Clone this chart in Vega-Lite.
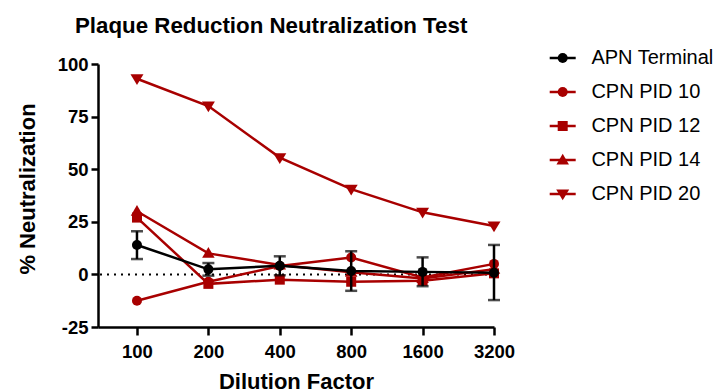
{
  "$schema": "https://vega.github.io/schema/vega-lite/v6.json",
  "width": 396,
  "height": 263,
  "autosize": {"type": "none"},
  "padding": {"left": 98, "top": 64, "right": 227, "bottom": 65},
  "title": {"text": "Plaque Reduction Neutralization Test", "anchor": "start", "frame": "group", "dx": -23, "dy": 17, "fontSize": 22.3, "font": "Liberation Sans", "fontWeight": "bold", "color": "black", "baseline": "alphabetic", "offset": 10},
  "config": {
    "view": {"stroke": null},
    "font": "Liberation Sans",
    "axis": {"domainColor": "black", "domainWidth": 2.5, "tickColor": "black", "tickWidth": 2.5, "labelColor": "black", "labelFont": "Liberation Sans", "labelFontSize": 18.5, "labelFontWeight": "bold", "titleFont": "Liberation Sans", "titleFontSize": 22, "titleFontWeight": "bold", "titleColor": "black", "grid": false, "labelOverlap": false, "labelFlush": false},
    "legend": {"orient": "none", "legendX": 454.7, "legendY": -16, "symbolSize": 100, "labelFontSize": 20, "labelFont": "Liberation Sans", "labelColor": "black", "labelOffset": 18.7, "rowPadding": 14, "padding": 0, "labelLimit": 300}
  },
  "data": {"values": [
    {"series": "CPN PID 10", "dilution": 100, "value": -12.5},
    {"series": "CPN PID 10", "dilution": 200, "value": -3.5},
    {"series": "CPN PID 10", "dilution": 400, "value": 4},
    {"series": "CPN PID 10", "dilution": 800, "value": 8},
    {"series": "CPN PID 10", "dilution": 1600, "value": -1.5},
    {"series": "CPN PID 10", "dilution": 3200, "value": 5},
    {"series": "CPN PID 12", "dilution": 100, "value": 27},
    {"series": "CPN PID 12", "dilution": 200, "value": -4.5},
    {"series": "CPN PID 12", "dilution": 400, "value": -2.5},
    {"series": "CPN PID 12", "dilution": 800, "value": -3.5},
    {"series": "CPN PID 12", "dilution": 1600, "value": -3},
    {"series": "CPN PID 12", "dilution": 3200, "value": 0.5},
    {"series": "CPN PID 14", "dilution": 100, "value": 30},
    {"series": "CPN PID 14", "dilution": 200, "value": 10},
    {"series": "CPN PID 14", "dilution": 400, "value": 4.5},
    {"series": "CPN PID 14", "dilution": 800, "value": 1},
    {"series": "CPN PID 14", "dilution": 1600, "value": -2},
    {"series": "CPN PID 14", "dilution": 3200, "value": 2.5},
    {"series": "CPN PID 20", "dilution": 100, "value": 93},
    {"series": "CPN PID 20", "dilution": 200, "value": 80},
    {"series": "CPN PID 20", "dilution": 400, "value": 55.5},
    {"series": "CPN PID 20", "dilution": 800, "value": 40.5},
    {"series": "CPN PID 20", "dilution": 1600, "value": 29.5},
    {"series": "CPN PID 20", "dilution": 3200, "value": 23},
    {"series": "APN Terminal", "dilution": 100, "value": 14, "lo": 7.3, "hi": 20.5},
    {"series": "APN Terminal", "dilution": 200, "value": 2.4, "lo": -0.6, "hi": 5.4},
    {"series": "APN Terminal", "dilution": 400, "value": 4.1, "lo": -0.4, "hi": 8.6},
    {"series": "APN Terminal", "dilution": 800, "value": 1.6, "lo": -7.8, "hi": 11},
    {"series": "APN Terminal", "dilution": 1600, "value": 1.2, "lo": -5.6, "hi": 8.1},
    {"series": "APN Terminal", "dilution": 3200, "value": 0.8, "lo": -12.2, "hi": 14}
  ]},
  "layer": [
    {
      "data": {"values": [{"ref": 0}]},
      "mark": {"type": "rule", "strokeDash": [2, 5], "strokeWidth": 2, "color": "black"},
      "encoding": {
        "y": {"field": "ref", "type": "quantitative", "scale": {"domain": [-25, 100], "nice": false, "zero": false}, "axis": {"values": [-25, 0, 25, 50, 75, 100], "labelExpr": "'' + datum.value", "title": "% Neutralization", "tickSize": 7, "labelPadding": 3, "titleX": -64, "titleY": 124.5, "titleAngle": 270, "titleBaseline": "alphabetic", "titleAlign": "center"}}
      }
    },
    {
      "transform": [{"filter": "datum.series !== 'APN Terminal'"}],
      "mark": {"type": "line", "strokeWidth": 2.5},
      "encoding": {
        "x": {"field": "dilution", "type": "quantitative", "scale": {"type": "log", "base": 2, "domain": [68.5, 3200], "nice": false}, "axis": {"values": [100, 200, 400, 800, 1600, 3200], "format": "d", "title": "Dilution Factor", "tickSize": 8, "labelPadding": 7, "titleX": 198, "titleY": 61, "titleBaseline": "alphabetic", "titleAlign": "center"}},
        "y": {"field": "value", "type": "quantitative", "scale": {"domain": [-25, 100], "nice": false, "zero": false}, "axis": {"values": [-25, 0, 25, 50, 75, 100], "labelExpr": "'' + datum.value", "title": "% Neutralization", "tickSize": 7, "labelPadding": 3, "titleX": -64, "titleY": 124.5, "titleAngle": 270, "titleBaseline": "alphabetic", "titleAlign": "center"}},
        "color": {"field": "series", "type": "nominal", "scale": {"domain": ["APN Terminal", "CPN PID 10", "CPN PID 12", "CPN PID 14", "CPN PID 20"], "range": ["black", "#A80000", "#A80000", "#A80000", "#A80000"]}, "legend": {"title": null, "symbolType": "M-2.6,0H2.6", "symbolStrokeWidth": 2.5}}
      }
    },
    {
      "transform": [{"filter": "datum.series !== 'APN Terminal'"}],
      "mark": {"type": "point", "filled": true, "size": 100, "opacity": 1},
      "encoding": {
        "x": {"field": "dilution", "type": "quantitative"},
        "y": {"field": "value", "type": "quantitative"},
        "fill": {"field": "series", "type": "nominal", "scale": {"range": ["black", "#A80000", "#A80000", "#A80000", "#A80000"]}, "legend": {"title": null, "labelOpacity": 0}},
        "shape": {"field": "series", "type": "nominal", "scale": {"range": ["circle", "circle", "square", "M0,-1.25L1.25,0.9L-1.25,0.9Z", "M0,1.25L1.3,-0.9L-1.3,-0.9Z"]}, "legend": {"title": null, "labelOpacity": 0}}
      }
    },
    {
      "transform": [{"filter": "datum.series === 'APN Terminal'"}],
      "mark": {"type": "errorbar", "color": "black", "ticks": {"size": 12, "thickness": 2.5, "color": "black"}, "rule": {"strokeWidth": 2.5, "color": "black"}},
      "encoding": {
        "x": {"field": "dilution", "type": "quantitative"},
        "y": {"field": "lo", "type": "quantitative", "title": "% Neutralization"},
        "y2": {"field": "hi"}
      }
    },
    {
      "transform": [{"filter": "datum.series === 'APN Terminal'"}],
      "mark": {"type": "line", "strokeWidth": 2.5},
      "encoding": {
        "x": {"field": "dilution", "type": "quantitative"},
        "y": {"field": "value", "type": "quantitative"},
        "color": {"field": "series", "type": "nominal"}
      }
    },
    {
      "transform": [{"filter": "datum.series === 'APN Terminal'"}],
      "mark": {"type": "point", "filled": true, "size": 100, "opacity": 1},
      "encoding": {
        "x": {"field": "dilution", "type": "quantitative"},
        "y": {"field": "value", "type": "quantitative"},
        "fill": {"field": "series", "type": "nominal"},
        "shape": {"field": "series", "type": "nominal"}
      }
    }
  ]
}
